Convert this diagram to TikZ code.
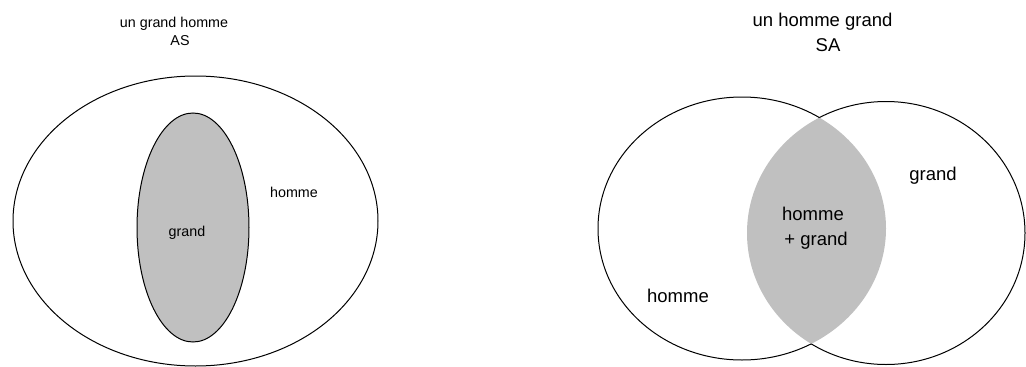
\documentclass[tikz,border=0pt]{standalone}
\usepackage{fontspec}
\setmainfont{Liberation Sans}
\definecolor{lensgray}{RGB}{192,192,192}
\tikzset{
  outline/.style={draw=black, line width=1pt},
  smalltxt/.style={font=\fontsize{14.3}{17}\selectfont, inner sep=0pt, anchor=base},
  bigtxt/.style={font=\fontsize{18.5}{22}\selectfont, inner sep=0pt, anchor=base}
}
\begin{document}
\begin{tikzpicture}[x=1pt,y=-1pt]
\useasboundingbox (0,0) rectangle (1026,367);
% ---- left panel: AS ----
\draw[outline] (195.5,221) ellipse [x radius=182.5, y radius=145];
\filldraw[outline, fill=lensgray] (193,227.5) ellipse [x radius=56, y radius=114.5];
\node[smalltxt] (t1) at (174,27.5) {un grand homme};
\node[smalltxt] (t2) at (180,45) {AS};
\node[smalltxt] (g1) at (187,236.5) {grand};
\node[smalltxt] (h1) at (294,197) {homme};
% ---- right panel: SA ----
\begin{scope}
  \clip (742,228.5) ellipse [x radius=144, y radius=131.5];
  \fill[lensgray] (886,233) ellipse [x radius=139, y radius=131.5];
\end{scope}
\begin{scope}[even odd rule]
  \clip (0,0) rectangle (1026,367) (886,233) ellipse [x radius=139, y radius=131.5];
  \draw[outline] (742,228.5) ellipse [x radius=144, y radius=131.5];
\end{scope}
\begin{scope}[even odd rule]
  \clip (0,0) rectangle (1026,367) (742,228.5) ellipse [x radius=144, y radius=131.5];
  \draw[outline] (886,233) ellipse [x radius=139, y radius=131.5];
\end{scope}
\node[bigtxt] (t3) at (822.5,26.7) {un homme grand};
\node[bigtxt] (t4) at (828,51.7) {SA};
\node[bigtxt] (g2) at (933,180) {grand};
\node[bigtxt] (h2) at (813,220) {homme};
\node[bigtxt] (hg) at (816,245) {+ grand};
\node[bigtxt] (h3) at (678,302.7) {homme};
\end{tikzpicture}
\end{document}
